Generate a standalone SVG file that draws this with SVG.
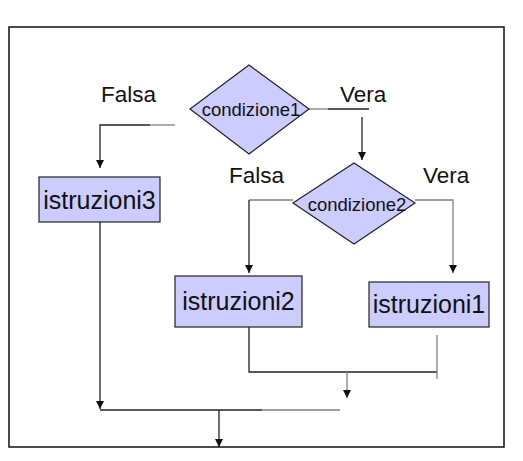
<svg xmlns="http://www.w3.org/2000/svg" width="523" height="461" viewBox="0 0 523 461">
<defs>
<style>
.node{fill:#ccccff;stroke:#222;stroke-width:1.2}
.lbl{font-family:"Liberation Sans",Arial,sans-serif;fill:#111}
.big{font-size:25px}
.cond{font-size:18.5px}
.edge{font-family:"Liberation Sans",Arial,sans-serif;font-size:22.5px;fill:#111}
.c{fill:none;stroke:#222;stroke-width:1.3}
.g{fill:none;stroke:#808080;stroke-width:1.3}
</style>
<marker id="ah" markerUnits="userSpaceOnUse" markerWidth="10" markerHeight="10" viewBox="0 0 10 10" refX="9" refY="5" orient="auto">
<path d="M1,1 L9,5 L1,9 Z" fill="#111"/>
</marker>
</defs>
<rect x="0" y="0" width="523" height="461" fill="#fff"/>
<rect x="9" y="27" width="495" height="420" fill="none" stroke="#111" stroke-width="1.5"/>
<g id="connectors">
<path class="g" d="M175,125 H150"/>
<path class="c" d="M150,125 H100 V168" marker-end="url(#ah)"/>
<path class="g" d="M309,109 H328"/>
<path class="c" d="M328,109 H369"/>
<path class="c" d="M362,117 V160" marker-end="url(#ah)"/>
<path class="g" d="M293,200 H249"/>
<path class="c" d="M249,200 V273" marker-end="url(#ah)"/>
<path class="g" d="M415,200 H453 V273" marker-end="url(#ah)"/>
<path class="c" d="M249,327 V372 H437"/>
<path class="g" d="M437,335 V379"/>
<path class="g" d="M347,372 V398" marker-end="url(#ah)"/>
<path class="c" d="M100,222 V409" marker-end="url(#ah)"/>
<path class="c" d="M100,410 H262"/>
<path class="g" d="M262,410 H340"/>
<path class="c" d="M219,410 V447" marker-end="url(#ah)"/>
</g>
<g id="cond1">
<polygon class="node" points="249,65 309,109 249,154 190,109"/>
<text class="lbl cond" x="251" y="116" text-anchor="middle">condizione1</text>
</g>
<g id="cond2">
<polygon class="node" points="354,163 415,203 354,244 293,203"/>
<text class="lbl cond" x="357" y="211" text-anchor="middle">condizione2</text>
</g>
<g id="istr3">
<rect class="node" x="39" y="177" width="121" height="45"/>
<text class="lbl big" x="99.5" y="209" text-anchor="middle">istruzioni3</text>
</g>
<g id="istr2">
<rect class="node" x="175" y="276" width="127" height="51"/>
<text class="lbl big" x="238.5" y="310" text-anchor="middle">istruzioni2</text>
</g>
<g id="istr1">
<rect class="node" x="369" y="282" width="120" height="45"/>
<text class="lbl big" x="429" y="313" text-anchor="middle">istruzioni1</text>
</g>
<g id="labels">
<text class="edge" x="101" y="102">Falsa</text>
<text class="edge" x="340" y="102">Vera</text>
<text class="edge" x="229" y="183">Falsa</text>
<text class="edge" x="423" y="183">Vera</text>
</g>
</svg>
